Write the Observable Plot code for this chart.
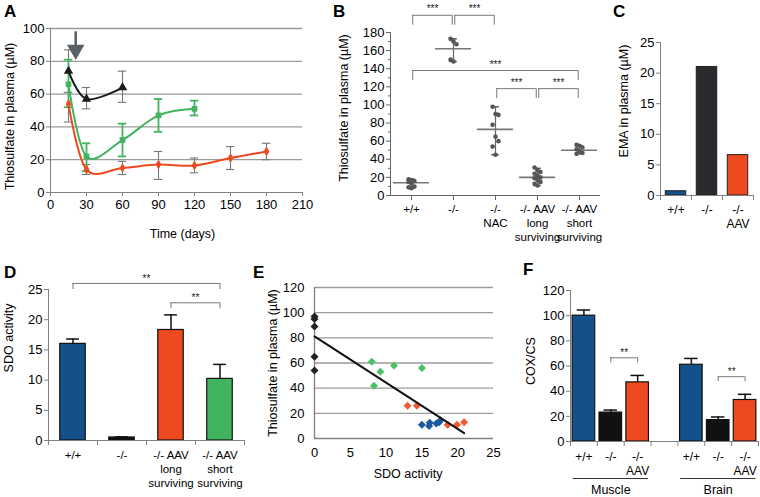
<!DOCTYPE html>
<html><head><meta charset="utf-8">
<script src="https://cdn.jsdelivr.net/npm/d3@7"></script>
<script src="https://cdn.jsdelivr.net/npm/@observablehq/plot@0.6"></script>
<style>
body{margin:0;background:#fff;}
#fig{position:relative;width:760px;height:497px;overflow:hidden;background:#fff;font-family:'Liberation Sans',Arial,sans-serif;}
#fig svg{position:absolute;}
.lab{position:absolute;font-weight:bold;font-size:17px;line-height:17px;color:#000;}
</style></head><body><div id="fig"></div>
<script>
// ---------------- DATA ----------------
// Panel A: thiosulfate over time
const aXTicks = [0, 30, 60, 90, 120, 150, 180, 210];
const aYTicks = [0, 20, 40, 60, 80, 100];
const aKO_days = [15, 30, 60];
const aKO_mean = [74, 57, 64];
const aKO_lo = [61, 51, 55];
const aKO_hi = [87, 64, 74];
const aShort_days = [15, 30, 60, 90, 120];
const aShort_mean = [66, 22, 32, 47, 51];
const aShort_lo = [52, 13, 22, 37, 47];
const aShort_hi = [81, 30, 42, 57, 56];
const aLong_days = [15, 30, 60, 90, 120, 150, 180];
const aLong_mean = [54, 14, 15, 17, 16.5, 21, 25];
const aLong_lo = [43, 11, 11, 8, 12, 14, 20];
const aLong_hi = [61, 17, 19, 25, 21, 28, 30];
const aArrowDay = 21;
const aArrowFrom = 98, aArrowTo = 84;

// Panel B: scatter with mean and range
const bCats = ["+/+", "-/-", "-/-\nNAC", "-/- AAV\nlong\nsurviving", "-/- AAV\nshort\nsurviving"];
const bYTicks = [0, 20, 40, 60, 80, 100, 120, 140, 160, 180];
const bYMinor = [10, 30, 50, 70, 90, 110, 130, 150, 170];
const bPoints = [
  [18, 17, 16, 15, 13, 10, 9, 8],
  [173, 170, 167, 150, 148],
  [98, 90, 89, 78, 65, 60, 54, 45],
  [31, 28, 26, 24, 22, 20, 19, 17, 15, 13, 11],
  [56, 55, 53, 51, 49, 47, 46]
];
const bMean = [14, 162, 73, 20, 50];
const bLo = [8, 148, 45, 11, 46];
const bHi = [18, 173, 98, 30, 55];
const bSig = [[0, 1, "***"], [1, 2, "***"], [0, 4, "***"], [2, 3, "***"], [3, 4, "***"]];

// Panel C: EMA
const cCats = ["+/+", "-/-", "-/-\nAAV"];
const cVals = [0.7, 21, 6.6];
const cYTicks = [0, 5, 10, 15, 20, 25];

// Panel D: SDO activity
const dCats = ["+/+", "-/-", "-/- AAV\nlong\nsurviving", "-/- AAV\nshort\nsurviving"];
const dVals = [16, 0.5, 18.3, 10.2];
const dErr = [0.8, 0.1, 2.5, 2.4];
const dYTicks = [0, 5, 10, 15, 20, 25];
const dSig = [[0, 3, "**"], [2, 3, "**"]];

// Panel E: correlation
const eXTicks = [0, 5, 10, 15, 20, 25];
const eYTicks = [0, 20, 40, 60, 80, 100, 120];
const eKO_x = [0, 0, 0, 0, 0];
const eKO_y = [97, 95, 89, 65, 54];
const eShort_x = [8, 8.3, 9.2, 11.1, 15];
const eShort_y = [61, 42, 53, 58, 56];
const eLong_x = [13, 14.3, 18.6, 19.9, 20.9];
const eLong_y = [26, 26, 11, 11, 13];
const eWT_x = [15, 16, 16.1, 17, 17.4, 17.6];
const eWT_y = [11, 10, 12.5, 12, 13, 14.5];

// Panel F: COX/CS
const fSlots = [0, 1, 2, 4, 5, 6];
const fCats = ["+/+", "-/-", "-/-\nAAV", "+/+", "-/-", "-/-\nAAV"];
const fVals = [100, 23, 47, 61, 17, 33];
const fErr = [4.5, 2, 5.5, 5, 2.5, 4.5];
const fYTicks = [0, 20, 40, 60, 80, 100, 120];
const fGroups = [{name: "Muscle", from: 0, to: 2}, {name: "Brain", from: 4, to: 6}];
const fSig = [[1, 2, "**"], [5, 6, "**"]];

// ---------------- STYLE ----------------
const FONT = "'Liberation Sans', Arial, sans-serif";
const BLUE = "#14508a", BLACK = "#111", RED = "#ee4a22", GREEN = "#43b45e", DARK = "#2a2b2f";
const AX = "#808080";
const st = {fontFamily: FONT, fontSize: "12px", color: "#000", background: "transparent", overflow: "visible"};
const fig = document.getElementById("fig");
function place(svg, left, top) { svg.style.left = left + "px"; svg.style.top = top + "px"; fig.appendChild(svg); }
function letter(t, left, top) { const d = document.createElement("div"); d.className = "lab"; d.textContent = t; d.style.left = left + "px"; d.style.top = top + "px"; fig.appendChild(d); }
function ytitle(t, dx, dy) { return Plot.text([t], {frameAnchor: "left", textAnchor: "middle", lineAnchor: "middle", dx, dy, rotate: -90, fontSize: 12.5}); }

// bracket helper: returns marks for significance brackets
function brackets(sig, levels, drop, inset, starDy) {
  const rows = sig.map((s, k) => ({a: s[0] + inset, b: s[1] - inset, y: levels[k], lab: s[2]}));
  return [
    Plot.ruleY(rows, {x1: "a", x2: "b", y: "y", stroke: "#777", strokeWidth: 1}),
    Plot.ruleX(rows, {x: "a", y1: "y", y2: d => d.y - drop, stroke: "#777", strokeWidth: 1}),
    Plot.ruleX(rows, {x: "b", y1: "y", y2: d => d.y - drop, stroke: "#777", strokeWidth: 1}),
    Plot.text(rows, {x: d => (d.a + d.b) / 2, y: "y", text: "lab", dy: starDy, fontSize: 10, fill: "#222"})
  ];
}
const idx = n => d3.range(n);

// ---------------- PANEL A ----------------
function series(days, mean, lo, hi) { return days.map((d, i) => ({x: d, y: mean[i], lo: lo[i], hi: hi[i]})); }
const aKO = series(aKO_days, aKO_mean, aKO_lo, aKO_hi);
const aShort = series(aShort_days, aShort_mean, aShort_lo, aShort_hi);
const aLong = series(aLong_days, aLong_mean, aLong_lo, aLong_hi);
function errA(rows, color) {
  const w = color === GREEN ? 1.8 : 1.1;
  return [
    Plot.ruleX(rows, {x: "x", y1: "lo", y2: "hi", stroke: color, strokeWidth: w}),
    Plot.ruleY(rows, {x1: d => d.x - 3.5, x2: d => d.x + 3.5, y: "lo", stroke: color, strokeWidth: w}),
    Plot.ruleY(rows, {x1: d => d.x - 3.5, x2: d => d.x + 3.5, y: "hi", stroke: color, strokeWidth: w})
  ];
}
place(Plot.plot({
  width: 310, height: 250, marginLeft: 50, marginRight: 8, marginTop: 28, marginBottom: 58,
  x: {domain: [0, 210]}, y: {domain: [0, 100]}, style: st,
  marks: [
    Plot.ruleY(aYTicks.slice(1), {stroke: "#9a9a9a", strokeWidth: 1.3}),
    Plot.ruleY([0], {stroke: AX}),
    Plot.ruleX([0], {stroke: AX}),
    Plot.axisY({ticks: aYTicks, tickSize: 4, tickPadding: 2, stroke: AX, label: null, fontSize: 13}),
    Plot.axisX({ticks: aXTicks, tickSize: 4, tickPadding: 3, stroke: AX, label: null, fontSize: 13}),
    ytitle("Thiosulfate in plasma (\u00b5M)", -41, 6),
    Plot.text(["Time (days)"], {frameAnchor: "bottom", dx: 6, dy: 45, fontSize: 12.5}),
    ...errA(aKO, "#777"), ...errA(aLong, "#777"), ...errA(aShort, GREEN),
    Plot.line(aKO, {x: "x", y: "y", stroke: "#1a1a1a", strokeWidth: 2, curve: "cardinal"}),
    Plot.line(aShort, {x: "x", y: "y", stroke: GREEN, strokeWidth: 2, curve: "cardinal"}),
    Plot.line(aLong, {x: "x", y: "y", stroke: RED, strokeWidth: 2, curve: "cardinal"}),
    Plot.dot(aKO, {x: "x", y: "y", symbol: "triangle", r: 3.5, fill: "#1a1a1a"}),
    Plot.dot(aShort, {x: "x", y: "y", symbol: "square", r: 3.2, fill: GREEN}),
    Plot.dot(aLong, {x: "x", y: "y", symbol: "diamond", r: 3, fill: RED}),
    Plot.ruleX([aArrowDay], {y1: aArrowFrom, y2: aArrowTo + 4, stroke: "#5a5f66", strokeWidth: 2.5}),
    Plot.dot([aArrowDay], {x: d => d, y: aArrowTo + 3, symbol: "triangle", rotate: 180, r: 6.5, fill: "#5a5f66"})
  ]
}), 0, 0);
letter("A", 4, 3);

// ---------------- PANEL B ----------------
const bRows = bPoints.flatMap((g, i) => g.map((v, j) => ({x: i + ((j % 3) - 1) * 0.07, v})));
const bStats = idx(bCats.length).map(i => ({i, m: bMean[i], lo: bLo[i], hi: bHi[i]}));
const bLevels = [199, 199, 138, 118, 118];
place(Plot.plot({
  width: 270, height: 250, marginLeft: 60, marginRight: 0, marginTop: 32, marginBottom: 55,
  x: {domain: [-0.5, 4.5]}, y: {domain: [0, 180]}, style: st,
  marks: [
    Plot.ruleX([-0.5], {y1: 0, y2: 180, stroke: "#666"}),
    Plot.ruleY([0], {x1: -0.5, x2: 4.5, stroke: "#666"}),
    Plot.axisY({ticks: bYTicks, tickSize: 4, tickPadding: 2, stroke: "#666", label: null, fontSize: 13}),
    Plot.axisY({ticks: bYMinor, tickSize: 2, tickFormat: () => "", stroke: "#666", label: null}),
    Plot.axisX({ticks: idx(bCats.length), tickFormat: i => bCats[i], tickSize: 5, tickPadding: 3, stroke: "#666", label: null, lineHeight: 1.2, fontSize: 11.5}),
    ytitle("Thiosulfate in plasma (\u00b5M)", -47, -6),
    ...brackets(bSig, bLevels, 11, 0.03, -6),
    Plot.ruleX(bStats, {x: "i", y1: "lo", y2: "hi", stroke: "#666", strokeWidth: 1.2}),
    Plot.ruleY(bStats, {x1: d => d.i - 0.09, x2: d => d.i + 0.09, y: "lo", stroke: "#555", strokeWidth: 1.5}),
    Plot.ruleY(bStats, {x1: d => d.i - 0.09, x2: d => d.i + 0.09, y: "hi", stroke: "#555", strokeWidth: 1.5}),
    Plot.ruleY(bStats, {x1: d => d.i - 0.43, x2: d => d.i + 0.43, y: "m", stroke: "#777", strokeWidth: 1.6}),
    Plot.dot(bRows, {x: "x", y: "v", r: 2.3, fill: "#555"})
  ]
}), 330, 0);
letter("B", 333, 3);

// ---------------- PANEL C ----------------
const cColors = [BLUE, DARK, RED];
place(Plot.plot({
  width: 160, height: 250, marginLeft: 60, marginRight: 7, marginTop: 42, marginBottom: 55,
  x: {domain: [-0.5, 2.5]}, y: {domain: [0, 25]}, color: {type: "identity"}, style: st,
  marks: [
    Plot.rectY(idx(cVals.length), {x1: i => i - 0.33, x2: i => i + 0.33, y: i => cVals[i], fill: i => cColors[i], stroke: "#222", strokeWidth: 1}),
    Plot.ruleX([-0.5], {y1: 0, y2: 25, stroke: AX}),
    Plot.ruleY([0], {x1: -0.5, x2: 2.5, stroke: AX}),
    Plot.axisY({ticks: cYTicks, tickSize: 4, tickPadding: 2, stroke: AX, label: null, fontSize: 13}),
    Plot.axisX({ticks: [-0.5, 0.5, 1.5, 2.5], tickSize: 5, tickFormat: () => "", stroke: AX, label: null}),
    Plot.axisX({ticks: idx(cCats.length), tickFormat: i => cCats[i], tickSize: 0, tickPadding: 8, label: null, lineHeight: 1.2, fontSize: 12}),
    ytitle("EMA in plasma (\u00b5M)", -37, -18)
  ]
}), 600, 0);
letter("C", 613, 3);

// ---------------- PANEL D ----------------
const dColors = [BLUE, BLACK, RED, GREEN];
const dRows = idx(dVals.length).map(i => ({i, v: dVals[i], e: dVals[i] + dErr[i]}));
place(Plot.plot({
  width: 250, height: 247, marginLeft: 48, marginRight: 6, marginTop: 39, marginBottom: 57,
  x: {domain: [-0.5, 3.5]}, y: {domain: [0, 25]}, color: {type: "identity"}, style: st,
  marks: [
    Plot.ruleX(dRows, {x: "i", y1: "v", y2: "e", stroke: "#111", strokeWidth: 1.5}),
    Plot.ruleY(dRows, {x1: d => d.i - 0.13, x2: d => d.i + 0.13, y: "e", stroke: "#111", strokeWidth: 1.5}),
    Plot.rectY(dRows, {x1: d => d.i - 0.26, x2: d => d.i + 0.26, y: "v", fill: d => dColors[d.i], stroke: "#111", strokeWidth: 1.2}),
    Plot.ruleX([-0.5], {y1: 0, y2: 25, stroke: AX}),
    Plot.ruleY([0], {x1: -0.5, x2: 3.5, stroke: AX}),
    Plot.axisY({ticks: dYTicks, tickSize: 4, tickPadding: 2, stroke: AX, label: null, fontSize: 13}),
    Plot.axisX({ticks: [-0.5, 0.5, 1.5, 2.5, 3.5], tickSize: 5, tickFormat: () => "", stroke: AX, label: null}),
    Plot.axisX({ticks: idx(dCats.length), tickFormat: i => dCats[i], tickSize: 0, tickPadding: 9, label: null, lineHeight: 1.2, fontSize: 11.5}),
    ytitle("SDO activity", -40, -27),
    ...brackets(dSig, [26, 22.8], 1, 0, -5)
  ]
}), 0, 250);
letter("D", 4, 264);

// ---------------- PANEL E ----------------
function pts(xs, ys, color) { return xs.map((x, i) => ({x, y: ys[i], color})); }
const eRows = [
  ...pts(eKO_x, eKO_y, "#222"), ...pts(eShort_x, eShort_y, "#4cbf66"),
  ...pts(eLong_x, eLong_y, "#ef5a30"), ...pts(eWT_x, eWT_y, "#1a5a9e")
];
place(Plot.plot({
  width: 260, height: 247, marginLeft: 64, marginRight: 17, marginTop: 37, marginBottom: 59,
  x: {domain: [0, 25]}, y: {domain: [0, 120]}, color: {type: "identity"}, style: st,
  marks: [
    Plot.ruleY(eYTicks.slice(1), {stroke: "#9a9a9a", strokeWidth: 1.3}),
    Plot.ruleY([0], {stroke: AX, strokeWidth: 1.3}),
    Plot.ruleX([0], {stroke: AX, strokeWidth: 1.3}),
    Plot.axisY({ticks: eYTicks, tickSize: 0, tickPadding: 10, label: null, fontSize: 13}),
    Plot.axisX({ticks: eXTicks, tickSize: 0, tickPadding: 9, label: null, fontSize: 13}),
    ytitle("Thiosulfate in plasma (\u00b5M)", -42, 0),
    Plot.text(["SDO activity"], {frameAnchor: "bottom", dx: 4, dy: 39, fontSize: 12.5}),
    Plot.dot(eRows, {x: "x", y: "y", symbol: "diamond2", r: 3.6, fill: "color"}),
    Plot.linearRegressionY(eRows, {x: "x", y: "y", ci: 0, stroke: "#111", strokeWidth: 2})
  ]
}), 250, 250);
letter("E", 253, 264);

// ---------------- PANEL F ----------------
const fColors = [BLUE, BLACK, RED, BLUE, BLACK, RED];
const fRows = fSlots.map((s, k) => ({s, v: fVals[k], e: fVals[k] + fErr[k], c: fColors[k]}));
const fLevels = fSig.map(p => d3.max(fRows.filter(r => r.s >= p[0] && r.s <= p[1]), r => r.e) + 14);
place(Plot.plot({
  width: 250, height: 247, marginLeft: 60, marginRight: 2, marginTop: 40, marginBottom: 56,
  x: {domain: [-0.5, 6.5]}, y: {domain: [0, 120]}, color: {type: "identity"}, style: st,
  marks: [
    Plot.ruleX(fRows, {x: "s", y1: "v", y2: "e", stroke: "#111", strokeWidth: 1.5}),
    Plot.ruleY(fRows, {x1: d => d.s - 0.25, x2: d => d.s + 0.25, y: "e", stroke: "#111", strokeWidth: 1.5}),
    Plot.rectY(fRows, {x1: d => d.s - 0.42, x2: d => d.s + 0.42, y: "v", fill: "c", stroke: "#111", strokeWidth: 1.2}),
    Plot.ruleX([-0.5], {y1: 0, y2: 120, stroke: AX}),
    Plot.ruleY([0], {x1: -0.5, x2: 6.5, stroke: AX}),
    Plot.axisY({ticks: fYTicks, tickSize: 4, tickPadding: 2, stroke: AX, label: null, fontSize: 13}),
    Plot.axisX({ticks: d3.range(-0.5, 7, 1), tickSize: 5, tickFormat: () => "", stroke: AX, label: null}),
    Plot.axisX({ticks: fSlots, tickFormat: s => fCats[fSlots.indexOf(s)], tickSize: 0, tickPadding: 9, label: null, lineHeight: 1.2, fontSize: 12}),
    ytitle("COX/CS", -40, -5),
    ...brackets(fSig, fLevels, 4, 0, -5),
    Plot.ruleY(fGroups, {x1: d => d.from - 0.4, x2: d => d.to + 0.4, y: 0, dy: 37, stroke: "#333", strokeWidth: 1}),
    Plot.text(fGroups, {x: d => (d.from + d.to) / 2, y: 0, dy: 48, text: "name", fontSize: 12.5})
  ]
}), 510, 250);
letter("F", 523, 261);
</script></body></html>
